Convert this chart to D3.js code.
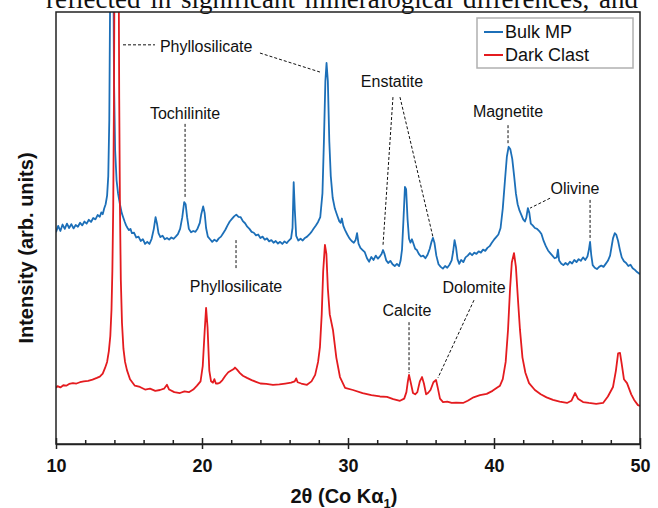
<!DOCTYPE html>
<html>
<head>
<meta charset="utf-8">
<script src="https://cdn.jsdelivr.net/npm/d3@7"></script>
<style>
body { margin: 0; background: #fff; }
svg { display: block; }
text { font-family: "Liberation Sans", Arial, sans-serif; fill: #111; }
</style>
</head>
<body>
<div id="viz"></div>
<script>
// XRD patterns, [2theta (deg), intensity (arb. units)]
const bulkMP = [
  [10.0, 49.0], [10.15, 50.5], [10.3, 49.3], [10.45, 50.8], [10.6, 49.8], [10.75, 51.0], [10.9, 50.0],
  [11.05, 50.9], [11.2, 49.9], [11.35, 50.7], [11.5, 50.3], [11.65, 51.2], [11.8, 50.6], [11.95, 51.5],
  [12.1, 51.0], [12.25, 51.9], [12.4, 51.4], [12.55, 52.3], [12.7, 52.0], [12.85, 53.0], [13.0, 52.6],
  [13.1, 53.6], [13.2, 53.2], [13.3, 54.5], [13.4, 55.5], [13.5, 57.5], [13.58, 62], [13.65, 75],
  [13.72, 110], [13.8, 160], [13.9, 130], [13.97, 85], [14.05, 68], [14.15, 61], [14.25, 58],
  [14.38, 55.5], [14.5, 53.5], [14.6, 52.5], [14.7, 51.5], [14.8, 50.6], [14.9, 50.0], [15.0, 49.5],
  [15.1, 49.8], [15.2, 48.8], [15.35, 48.9], [15.5, 47.8], [15.65, 48.0], [15.8, 47.0], [15.95, 47.4],
  [16.1, 46.3], [16.25, 46.8], [16.4, 46.3], [16.55, 47.5], [16.7, 49.8], [16.82, 52.5], [16.92, 51.0],
  [17.02, 48.8], [17.15, 47.9], [17.3, 48.2], [17.45, 47.4], [17.6, 47.7], [17.75, 47.3], [17.9, 47.8],
  [18.05, 47.5], [18.2, 48.0], [18.35, 48.6], [18.5, 49.8], [18.65, 52.5], [18.78, 56.0], [18.88, 55.5],
  [18.98, 52.5], [19.1, 49.8], [19.25, 49.0], [19.4, 49.3], [19.55, 49.1], [19.7, 49.9], [19.85, 51.2],
  [19.95, 53.2], [20.08, 55.0], [20.18, 53.5], [20.28, 50.0], [20.4, 48.0], [20.55, 47.4], [20.7, 46.8],
  [20.85, 47.3], [21.0, 46.9], [21.15, 47.6], [21.3, 48.0], [21.45, 48.8], [21.6, 49.6], [21.75, 50.6],
  [21.9, 51.5], [22.05, 52.1], [22.2, 52.7], [22.35, 53.1], [22.5, 52.6], [22.65, 52.5], [22.8, 51.6],
  [22.95, 51.1], [23.1, 50.3], [23.25, 49.8], [23.4, 49.1], [23.55, 48.9], [23.7, 48.3], [23.85, 48.5],
  [24.0, 47.7], [24.15, 48.0], [24.3, 47.3], [24.45, 47.6], [24.6, 46.9], [24.75, 47.2], [24.9, 46.6],
  [25.05, 47.0], [25.2, 46.4], [25.35, 46.8], [25.5, 46.3], [25.65, 46.9], [25.8, 46.5], [25.95, 47.1],
  [26.1, 47.6], [26.2, 50.0], [26.28, 60.6], [26.36, 54.0], [26.45, 48.2], [26.6, 47.1], [26.75, 47.5],
  [26.9, 47.1], [27.05, 47.7], [27.2, 48.0], [27.35, 48.5], [27.5, 49.1], [27.65, 49.9], [27.8, 50.6],
  [27.95, 51.4], [28.1, 52.5], [28.25, 58.0], [28.35, 70.0], [28.45, 84.0], [28.53, 88.2], [28.62, 84.0],
  [28.72, 70.0], [28.82, 62.0], [28.95, 57.0], [29.1, 54.5], [29.25, 53.0], [29.4, 51.6], [29.5, 51.2],
  [29.58, 52.2], [29.68, 50.5], [29.8, 49.5], [29.95, 48.5], [30.1, 47.6], [30.25, 47.0], [30.4, 46.6],
  [30.52, 47.2], [30.62, 48.8], [30.72, 46.4], [30.85, 45.4], [31.0, 44.9], [31.15, 44.4], [31.3, 43.0],
  [31.45, 42.2], [31.6, 43.3], [31.75, 42.6], [31.9, 43.6], [32.05, 42.9], [32.2, 43.5], [32.3, 44.0],
  [32.4, 44.9], [32.5, 44.0], [32.62, 42.5], [32.75, 41.9], [32.9, 42.4], [33.05, 41.6], [33.2, 41.2],
  [33.35, 41.7], [33.5, 41.2], [33.6, 42.4], [33.7, 45.0], [33.8, 52.0], [33.9, 59.5], [33.98, 59.0],
  [34.08, 52.0], [34.18, 47.5], [34.28, 46.6], [34.38, 47.4], [34.48, 46.4], [34.6, 45.2], [34.72, 44.9],
  [34.85, 44.0], [35.0, 43.4], [35.15, 43.6], [35.3, 43.0], [35.45, 43.8], [35.6, 45.2], [35.72, 46.8],
  [35.82, 47.7], [35.92, 46.6], [36.05, 43.6], [36.2, 41.6], [36.35, 41.0], [36.5, 40.6], [36.65, 41.2],
  [36.8, 40.8], [36.95, 41.5], [37.1, 42.5], [37.2, 44.5], [37.3, 47.2], [37.4, 45.5], [37.5, 42.8],
  [37.62, 41.7], [37.75, 42.6], [37.9, 42.1], [38.05, 43.2], [38.2, 43.6], [38.35, 44.2], [38.5, 43.7],
  [38.65, 44.3], [38.8, 44.0], [38.95, 44.6], [39.1, 44.3], [39.25, 45.0], [39.4, 44.7], [39.55, 45.4],
  [39.7, 45.8], [39.85, 46.6], [40.0, 47.3], [40.15, 47.9], [40.3, 48.5], [40.45, 50.0], [40.6, 54.5],
  [40.75, 61.0], [40.88, 66.5], [41.0, 68.8], [41.12, 68.2], [41.25, 66.0], [41.38, 62.0], [41.5, 58.0],
  [41.62, 55.5], [41.75, 54.0], [41.88, 53.0], [42.0, 52.0], [42.12, 51.5], [42.22, 52.5], [42.32, 54.6],
  [42.42, 53.5], [42.52, 51.0], [42.65, 50.6], [42.8, 50.0], [42.95, 49.8], [43.1, 49.3], [43.25, 48.6],
  [43.4, 47.0], [43.55, 45.8], [43.7, 44.8], [43.85, 44.2], [44.0, 43.6], [44.15, 43.0], [44.3, 43.2],
  [44.38, 45.0], [44.46, 42.5], [44.6, 41.8], [44.75, 41.4], [44.9, 41.9], [45.05, 41.5], [45.2, 42.2],
  [45.35, 41.8], [45.5, 42.6], [45.65, 42.1], [45.8, 42.8], [45.95, 42.4], [46.1, 43.2], [46.25, 42.6],
  [46.4, 43.4], [46.5, 45.0], [46.58, 46.8], [46.66, 43.8], [46.76, 41.4], [46.9, 40.8], [47.05, 40.5],
  [47.2, 41.0], [47.35, 41.3], [47.5, 41.0], [47.65, 41.7], [47.8, 42.4], [47.95, 43.6], [48.05, 45.6],
  [48.15, 47.6], [48.27, 48.8], [48.38, 48.4], [48.5, 47.0], [48.62, 45.0], [48.75, 43.2], [48.9, 42.3],
  [49.05, 41.9], [49.2, 41.2], [49.35, 41.5], [49.5, 40.7], [49.65, 40.3], [49.8, 39.8], [50.0, 39.3]
];

const darkClast = [
  [10.0, 13.0], [10.1, 13.4], [10.3, 13.1], [10.5, 13.6], [10.7, 13.5], [10.9, 13.9], [11.16, 14.1],
  [11.4, 14.0], [11.64, 14.3], [11.9, 14.5], [12.2, 14.6], [12.5, 14.9], [12.8, 15.3], [13.0, 15.6],
  [13.2, 16.3], [13.36, 17.6], [13.5, 19.0], [13.62, 21.5], [13.72, 25.0], [13.8, 31.0], [13.86, 40.0],
  [13.92, 55.0], [13.97, 80.0], [14.03, 130.0], [14.1, 200], [14.2, 200], [14.27, 130], [14.33, 80],
  [14.38, 55], [14.44, 38], [14.52, 28], [14.62, 22], [14.73, 19.0], [14.86, 17.1], [15.07, 15.0],
  [15.4, 13.5], [15.75, 13.2], [16.1, 12.6], [16.44, 12.8], [16.8, 12.3], [17.12, 12.5], [17.4, 12.8],
  [17.6, 13.7], [17.75, 12.6], [18.1, 12.0], [18.49, 11.8], [18.8, 12.2], [19.1, 12.0], [19.4, 12.6],
  [19.66, 13.5], [19.9, 14.5], [20.05, 18.0], [20.18, 26.0], [20.28, 31.5], [20.38, 27.0], [20.5, 17.0],
  [20.62, 14.5], [20.75, 14.2], [20.85, 15.0], [20.95, 14.0], [21.1, 14.0], [21.23, 14.2], [21.4, 14.8],
  [21.6, 15.8], [21.8, 16.6], [22.0, 17.0], [22.15, 17.3], [22.26, 17.7], [22.4, 17.2], [22.6, 16.4],
  [22.8, 15.8], [23.08, 15.3], [23.4, 14.8], [23.7, 14.4], [24.0, 14.0], [24.4, 13.9], [24.86, 13.7],
  [25.3, 13.8], [25.7, 14.0], [26.1, 14.2], [26.35, 14.5], [26.45, 15.2], [26.55, 14.3], [26.8, 14.0],
  [27.19, 13.7], [27.5, 14.5], [27.75, 16.0], [27.95, 19.0], [28.08, 22.5], [28.2, 30.0], [28.3, 40.0],
  [28.42, 46.1], [28.52, 44.0], [28.62, 36.0], [28.75, 30.0], [28.97, 26.4], [29.2, 20.0], [29.45, 15.5],
  [29.8, 13.0], [30.34, 12.5], [31.0, 11.8], [31.6, 11.3], [32.19, 11.0], [32.67, 10.9], [33.1, 10.4],
  [33.56, 10.0], [33.85, 10.5], [34.0, 12.0], [34.1, 14.5], [34.18, 16.0], [34.28, 14.5], [34.45, 11.8],
  [34.6, 11.5], [34.75, 12.0], [34.92, 14.5], [35.07, 15.5], [35.2, 14.0], [35.35, 11.5], [35.48, 11.8],
  [35.65, 12.5], [35.85, 14.3], [36.03, 14.8], [36.15, 13.0], [36.3, 10.5], [36.51, 9.7], [36.8, 9.8],
  [37.1, 9.5], [37.4, 9.6], [37.88, 9.5], [38.2, 10.0], [38.6, 10.8], [39.04, 11.3], [39.5, 11.6],
  [39.9, 12.3], [40.2, 13.0], [40.41, 13.5], [40.6, 15.0], [40.8, 19.0], [40.96, 26.4], [41.1, 36.0],
  [41.22, 42.0], [41.37, 44.2], [41.5, 41.0], [41.65, 33.0], [41.78, 26.4], [41.95, 20.0], [42.15, 16.5],
  [42.4, 14.1], [42.8, 12.5], [43.2, 11.5], [43.6, 10.8], [44.04, 10.2], [44.5, 9.8], [45.0, 9.5],
  [45.3, 10.0], [45.55, 11.8], [45.75, 10.5], [46.1, 9.7], [46.5, 9.5], [47.0, 9.3], [47.47, 9.5],
  [47.8, 11.0], [48.15, 13.2], [48.35, 17.0], [48.5, 21.0], [48.63, 21.1], [48.75, 18.5], [48.9, 15.0],
  [49.11, 14.1], [49.4, 11.5], [49.6, 10.2], [49.86, 9.0], [50.0, 8.8]
];

const seriesNames = ["Bulk MP", "Dark Clast"];
const seriesColors = ["#1c6fb8", "#e41b1f"];
const xTicks = [10, 20, 30, 40, 50];
const xMinorTicks = [12, 14, 16, 18, 22, 24, 26, 28, 32, 34, 36, 38, 42, 44, 46, 48];

// peak labels, placed in data units (2theta, intensity)
const peakLabels = [
  { text: "Phyllosilicate", t: 17.12, v: 90.7, anchor: "start" },
  { text: "Tochilinite", t: 18.84, v: 75.2, anchor: "middle" },
  { text: "Phyllosilicate", t: 22.33, v: 35.2, anchor: "middle" },
  { text: "Enstatite", t: 33.01, v: 82.6, anchor: "middle" },
  { text: "Magnetite", t: 40.96, v: 75.7, anchor: "middle" },
  { text: "Olivine", t: 45.55, v: 57.9, anchor: "middle" },
  { text: "Calcite", t: 34.04, v: 29.6, anchor: "middle" },
  { text: "Dolomite", t: 38.63, v: 35.0, anchor: "middle" }
];
// dashed leader lines [t1, v1, t2, v2]
const leaderLines = [
  [14.59, 92.4, 16.78, 92.4],
  [23.97, 90.5, 28.08, 86.1],
  [18.84, 74.1, 18.84, 57.0],
  [22.33, 47.2, 22.33, 40.3],
  [33.08, 80.3, 32.40, 46.1],
  [33.56, 80.3, 35.82, 47.9],
  [40.96, 73.8, 40.96, 69.2],
  [43.84, 56.9, 42.47, 54.6],
  [46.58, 56.5, 46.58, 47.2],
  [34.18, 28.2, 34.18, 16.4],
  [38.63, 33.3, 36.16, 15.3]
];

const width = 658, height = 508;
const margin = { top: 12, right: 18, bottom: 64, left: 56 };
const plotW = width - margin.left - margin.right;
const plotH = height - margin.top - margin.bottom;

const svg = d3.select("#viz").append("svg")
  .attr("width", width)
  .attr("height", height);

// bit of page text above the figure (cropped at the top)
const pageWords = ["reflected", "in", "significant", "mineralogical", "differences,", "and"];
const pageText = svg.append("g").attr("class", "page-text");
const wordNodes = pageText.selectAll("text").data(pageWords).enter().append("text")
  .attr("y", 8)
  .style("font-family", '"Liberation Serif", "Times New Roman", serif')
  .style("font-size", "27px")
  .text(d => d);
const widths = wordNodes.nodes().map(n => n.getComputedTextLength());
const totalW = d3.sum(widths);
const gap = (638 - 46 - totalW) / (pageWords.length - 1);
let cursor = 46;
wordNodes.attr("x", (d, i) => {
  const xx = cursor;
  cursor += widths[i] + gap;
  return xx;
});

const x = d3.scaleLinear().domain([10, 50]).range([0, plotW]);
const y = d3.scaleLinear().domain([0, 100]).range([plotH, 0]);

const g = svg.append("g").attr("transform", `translate(${margin.left},${margin.top})`);

g.append("clipPath").attr("id", "plotClip")
  .append("rect").attr("width", plotW).attr("height", plotH);

const line = d3.line().x(d => x(d[0])).y(d => y(d[1]));

const curves = g.append("g").attr("clip-path", "url(#plotClip)");
[bulkMP, darkClast].forEach((series, i) => {
  curves.append("path")
    .datum(series)
    .attr("fill", "none")
    .attr("stroke", seriesColors[i])
    .attr("stroke-width", 1.8)
    .attr("stroke-linejoin", "round")
    .attr("d", line);
});

// frame
g.append("rect")
  .attr("width", plotW).attr("height", plotH)
  .attr("fill", "none")
  .attr("stroke", "#222")
  .attr("stroke-width", 1.5);

// x axis, major ticks cross the axis line
const xAxis = g.append("g")
  .attr("transform", `translate(0,${plotH})`)
  .call(d3.axisBottom(x).tickValues(xTicks).tickSize(5).tickSizeOuter(0));
xAxis.select(".domain").attr("stroke", "#222").attr("stroke-width", 1.5);
xAxis.selectAll(".tick line").attr("y1", -6).attr("stroke", "#222").attr("stroke-width", 1.5);
xAxis.selectAll(".tick text")
  .attr("y", 15)
  .attr("dy", "0.71em")
  .style("font-size", "18px")
  .style("font-weight", "bold")
  .style("font-family", '"Liberation Sans", Arial, sans-serif')
  .attr("fill", "#111");

const xMinor = g.append("g")
  .attr("transform", `translate(0,${plotH})`)
  .call(d3.axisBottom(x).tickValues(xMinorTicks).tickSize(-4).tickSizeOuter(0).tickFormat(""));
xMinor.select(".domain").remove();
xMinor.selectAll(".tick line").attr("stroke", "#222").attr("stroke-width", 1.5);

// axis titles
const xTitle = svg.append("text")
  .attr("x", 344)
  .attr("y", 503)
  .attr("text-anchor", "middle")
  .style("font-size", "20px")
  .style("font-weight", "bold");
xTitle.append("tspan").text("2θ (Co Kα");
xTitle.append("tspan").attr("dy", 5).style("font-size", "13px").text("1");
xTitle.append("tspan").attr("dy", -5).text(")");

svg.append("text")
  .attr("transform", "translate(33,248) rotate(-90)")
  .attr("text-anchor", "middle")
  .style("font-size", "20px")
  .style("font-weight", "bold")
  .text("Intensity (arb. units)");

// annotations
g.selectAll("line.leader").data(leaderLines).enter().append("line")
  .attr("class", "leader")
  .attr("x1", d => x(d[0])).attr("y1", d => y(d[1]))
  .attr("x2", d => x(d[2])).attr("y2", d => y(d[3]))
  .attr("stroke", "#111")
  .attr("stroke-width", 1)
  .attr("stroke-dasharray", "3,2");

g.selectAll("text.peak").data(peakLabels).enter().append("text")
  .attr("class", "peak")
  .attr("x", d => x(d.t))
  .attr("y", d => y(d.v))
  .attr("text-anchor", d => d.anchor)
  .style("font-size", "16px")
  .text(d => d.text);

// legend
const legend = svg.append("g").attr("transform", "translate(477,18)");
legend.append("rect")
  .attr("width", 156).attr("height", 50)
  .attr("fill", "#fff")
  .attr("stroke", "#b0b0b0")
  .attr("stroke-width", 1.5);
seriesNames.forEach((name, i) => {
  legend.append("line")
    .attr("x1", 7).attr("x2", 26)
    .attr("y1", 14 + i * 23).attr("y2", 14 + i * 23)
    .attr("stroke", seriesColors[i])
    .attr("stroke-width", 2);
  legend.append("text")
    .attr("x", 28)
    .attr("y", 20 + i * 23)
    .style("font-size", "18px")
    .text(name);
});
</script>
</body>
</html>
